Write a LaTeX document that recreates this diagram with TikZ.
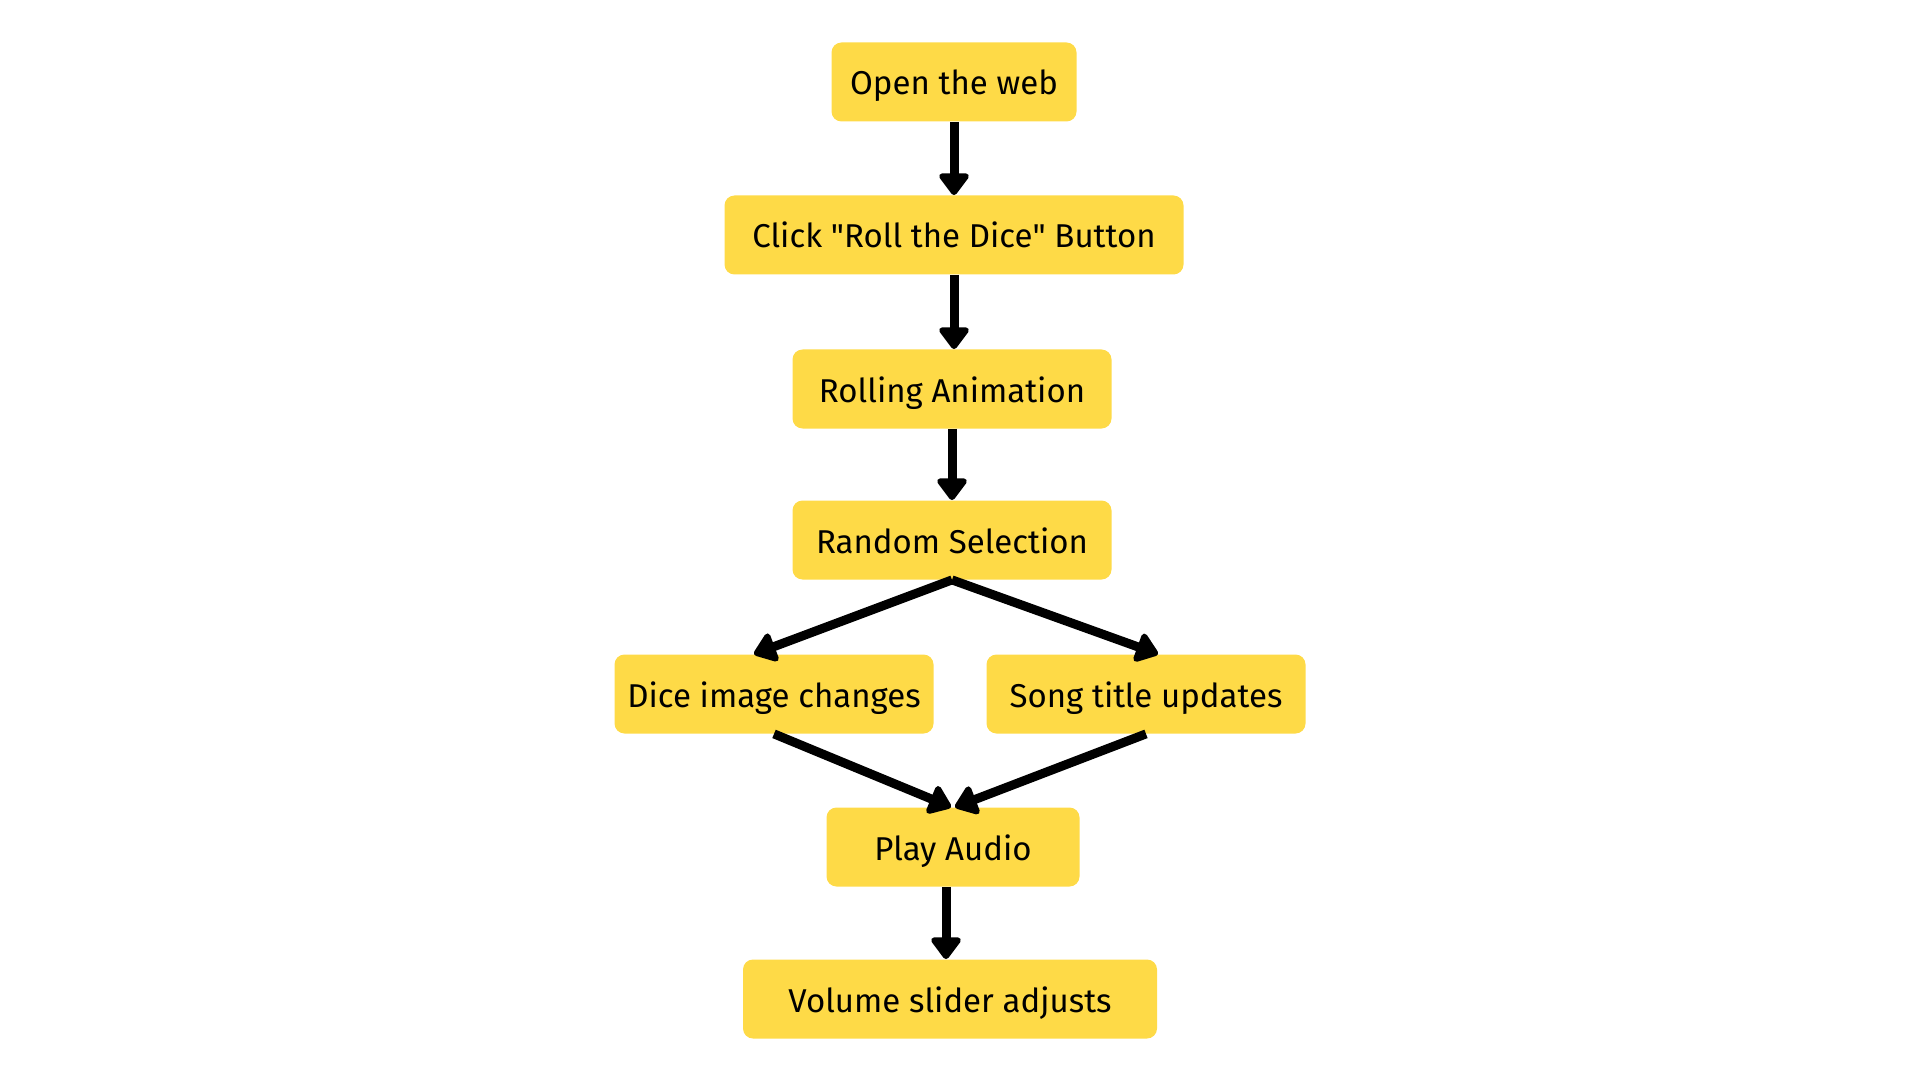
\documentclass[tikz,border=0pt]{standalone}
\usepackage{fontspec}
\setmainfont{Fira Sans}
\usepackage{xcolor}
\usepackage{tikz}
\usetikzlibrary{arrows.meta}

\definecolor{stepyellow}{RGB}{254,218,71}

\tikzset{
  stepbox/.style={fill=stepyellow, rounded corners=5pt, minimum height=39.5pt,
    inner sep=0pt, text height=13pt, text depth=0pt,
    font=\fontsize{16.5}{20}\selectfont, text=black},
  flow/.style={line width=4.5pt, draw=black,
    -{Triangle[length=12pt,width=17pt,round]}}
}

\begin{document}
\begin{tikzpicture}[x=0.5pt,y=0.5pt,yscale=-1,xscale=1]
%set diagram to 1920 x 1080
\useasboundingbox (0,0) rectangle (1920,1080);

% Text Node
\node [stepbox, minimum width=122.5pt] (open) at (954,82) {Open the web};
% Text Node
\node [stepbox, minimum width=229.5pt] (click) at (954,235) {Click \textquotedbl Roll the Dice\textquotedbl\ Button};
% Text Node
\node [stepbox, minimum width=159.5pt] (rolling) at (952,389) {Rolling Animation};
% Text Node
\node [stepbox, minimum width=159.5pt] (random) at (952,540) {Random Selection};
% Text Node
\node [stepbox, minimum width=159.5pt] (dice) at (774,694) {Dice image changes};
% Text Node
\node [stepbox, minimum width=159.5pt] (song) at (1146,694) {Song title updates};
% Text Node
\node [stepbox, minimum width=126.5pt] (play) at (953,847) {Play Audio};
% Text Node
\node [stepbox, minimum width=207pt] (volume) at (950,999) {Volume slider adjusts};

%Straight Lines
\draw [flow] (open.south) -- (click.north);
\draw [flow] (click.south) -- (click.south |- rolling.north);
\draw [flow] (rolling.south) -- (random.north);

%Straight Lines
\draw [flow] (random.south) -- ([xshift=-10pt]dice.north);
\draw [flow] (random.south) -- ([xshift=6pt]song.north);
\draw [flow] (dice.south) -- ([xshift=-1pt]play.north);
\draw [flow] (song.south) -- ([xshift=1pt]play.north);

%Straight Lines
\draw [flow] ([xshift=-2pt]play.south -| volume.north) -- ([xshift=-2pt]volume.north);

\end{tikzpicture}
\end{document}
